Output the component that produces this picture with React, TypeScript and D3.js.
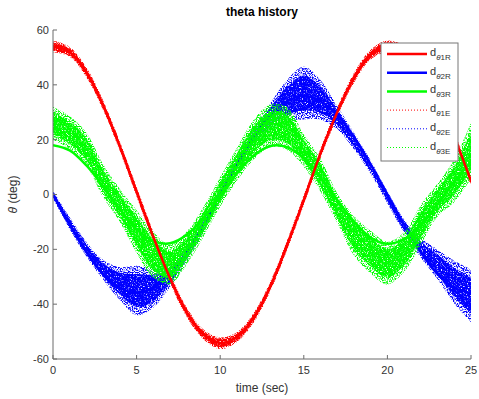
import React from "react";
import * as d3 from "d3";

// time samples (sec)
const times = [0, 1, 2, 3, 4, 5, 6, 7, 8, 9, 10, 11, 12, 13, 14, 15, 16, 17, 18, 19, 20, 21, 22, 23, 24, 25];

// reference trajectories (deg)
const theta1R = [54, 52, 44.5, 32.5, 17.5, 1, -15.5, -30.5, -43, -51, -54.2, -52, -45, -33.5, -18.5, -2, 15, 30, 42.5, 51, 54, 52.5, 46, 35, 21, 5];
const theta2R = [0, -11, -21, -29, -34, -36, -34, -29, -21, -11, 0, 11, 21, 29, 34, 36, 34, 29, 21, 11, 0, -11, -21, -29, -34, -36];
const theta3R = [18, 16.1, 10.6, 2.9, -5.4, -12.6, -17, -17.8, -14.7, -8.5, -0.4, 7.7, 14.2, 17.7, 17.3, 13.2, 6.2, -2, -9.8, -15.7, -18, -16.3, -11.2, -3.5, 4.7, 12.1];

// estimated trajectories: centre of the noisy cloud and its half width (deg)
const theta1E = [54, 52, 44.5, 32.5, 17.5, 1, -15.5, -30.5, -43, -51, -54.2, -52, -45, -33.5, -18.5, -2, 15, 30, 42.5, 51, 54, 52.5, 46, 35, 21, 5];
const theta1ESpread = [1.8, 1.5, 1.5, 1.5, 1.5, 1.5, 1.5, 1.5, 1.5, 1.5, 1.8, 1.5, 1.5, 1.5, 1.5, 1.5, 1.5, 1.5, 1.5, 1.5, 1.8, 1.5, 1.5, 1.5, 1.5, 1.5];
const theta2E = [0, -10.5, -20, -27.5, -32.5, -35, -34, -29.5, -21.5, -11.5, 0, 11, 21, 28.5, 34, 37, 34.5, 28, 19.5, 10, -1, -11.5, -19.5, -25.5, -32, -37];
const theta2ESpread = [1.2, 1.8, 2.2, 3, 5, 7.5, 6, 3.5, 2.5, 2, 1.8, 2, 2.5, 4, 6.5, 8, 6, 3.5, 2.5, 2, 1.8, 2, 3, 4.5, 6.5, 8];
const theta3E = [26, 22.5, 16.5, 5, -4, -13.5, -22, -25.5, -19.5, -10, 1, 11, 20, 25, 24, 16, 7, -5, -15, -21, -25, -21, -11, -2, 5, 16];
const theta3ESpread = [5, 5, 5, 5, 5, 6.5, 7, 6, 5, 4.5, 4.5, 5, 6, 6.5, 6.5, 5, 5, 4.5, 6, 6.5, 6.5, 6, 6, 5, 6.5, 8.5];

const xTicks = [0, 5, 10, 15, 20, 25];
const yTicks = [-60, -40, -20, 0, 20, 40, 60];

const legendItems = [
  { sub: "1R", color: "#ff0000", dotted: false },
  { sub: "2R", color: "#0000ff", dotted: false },
  { sub: "3R", color: "#00ff00", dotted: false },
  { sub: "1E", color: "#ff0000", dotted: true },
  { sub: "2E", color: "#0000ff", dotted: true },
  { sub: "3E", color: "#00ff00", dotted: true },
];

const W = 479;
const H = 399;
const margin = { top: 30, right: 8, bottom: 40, left: 53 };
const font = "'Liberation Sans', Arial, sans-serif";
const axisColor = "#6b6b6b";
const textColor = "#333";

const App = () => {
  const x = d3.scaleLinear().domain([0, 25]).range([margin.left, W - margin.right]);
  const y = d3.scaleLinear().domain([-60, 60]).range([H - margin.bottom, margin.top]);

  const line = (vals: number[]) =>
    d3.line<number>()
      .x((d, i) => x(times[i]))
      .y((d) => y(d))
      .curve(d3.curveCatmullRom)(vals) || "";

  const band = (c: number[], s: number[], k: number) =>
    d3.area<number>()
      .x((d, i) => x(times[i]))
      .y0((d, i) => y(d - s[i] * k))
      .y1((d, i) => y(d + s[i] * k))
      .curve(d3.curveCatmullRom)(c) || "";

  const bands = [
    { c: theta1E, s: theta1ESpread, color: "#ff0000" },
    { c: theta2E, s: theta2ESpread, color: "#0000ff" },
    { c: theta3E, s: theta3ESpread, color: "#00ff00" },
  ];

  const x0 = x(0), x1 = x(25), yb = y(-60), yt = y(60);
  const lg = { x: 381, y: 43, w: 77, h: 118, row: 18.7 };

  return (
    <svg width={W} height={H} style={{ position: "absolute", left: 0, top: 0, background: "#fff" }}>
      <defs>
        <filter id="sparse" x="0" y="0" width="100%" height="100%">
          <feTurbulence type="fractalNoise" baseFrequency="0.8" numOctaves="1" seed="7" result="noise" />
          <feColorMatrix in="noise" type="matrix" values="0 0 0 0 0  0 0 0 0 0  0 0 0 0 0  6 0 0 0 -2.6" result="mask" />
          <feComposite in="SourceGraphic" in2="mask" operator="in" />
        </filter>
        <filter id="dense" x="0" y="0" width="100%" height="100%">
          <feTurbulence type="fractalNoise" baseFrequency="0.8" numOctaves="1" seed="3" result="noise" />
          <feColorMatrix in="noise" type="matrix" values="0 0 0 0 0  0 0 0 0 0  0 0 0 0 0  5 0 0 0 -1.4" result="mask" />
          <feComposite in="SourceGraphic" in2="mask" operator="in" />
        </filter>
        <clipPath id="plot">
          <rect x={x0} y={yt} width={x1 - x0} height={yb - yt} />
        </clipPath>
      </defs>

      <text x={(x0 + x1) / 2} y={16} textAnchor="middle" fontFamily={font} fontSize={12} fontWeight="bold" fill="#000">
        theta history
      </text>

      <g clipPath="url(#plot)">
        <path d={line(theta2R)} fill="none" stroke="#0000ff" strokeWidth={2.5} />
        {bands.map((b, i) => (
          <g key={i}>
            <path d={band(b.c, b.s, 1.2)} fill={b.color} filter="url(#sparse)" />
            <path d={band(b.c, b.s, 0.8)} fill={b.color} filter="url(#dense)" />
          </g>
        ))}
        <path d={line(theta3R)} fill="none" stroke="#00ff00" strokeWidth={2.5} />
        <path d={line(theta1R)} fill="none" stroke="#ff0000" strokeWidth={2.5} />
      </g>

      {/* axes */}
      <line x1={x0} x2={x0} y1={yt} y2={yb} stroke={axisColor} />
      <line x1={x0} x2={x1} y1={yb} y2={yb} stroke={axisColor} />
      {yTicks.map((t) => (
        <g key={"y" + t}>
          <line x1={x0} x2={x0 + 4} y1={y(t)} y2={y(t)} stroke={axisColor} />
          <text x={x0 - 4} y={y(t)} dy="0.35em" textAnchor="end" fontFamily={font} fontSize={11} fill={textColor}>
            {t}
          </text>
        </g>
      ))}
      {xTicks.map((t) => (
        <g key={"x" + t}>
          <line x1={x(t)} x2={x(t)} y1={yb} y2={yb - 4} stroke={axisColor} />
          <text x={x(t)} y={yb + 15} textAnchor="middle" fontFamily={font} fontSize={11} fill={textColor}>
            {t}
          </text>
        </g>
      ))}
      <text x={(x0 + x1) / 2} y={392} textAnchor="middle" fontFamily={font} fontSize={12} fill={textColor}>
        time (sec)
      </text>
      <text transform={`translate(17,${(yt + yb) / 2}) rotate(-90)`} textAnchor="middle" fontFamily={font} fontSize={12} fill={textColor}>
        <tspan fontStyle="italic">θ</tspan> (deg)
      </text>

      {/* legend */}
      <rect x={lg.x} y={lg.y} width={lg.w} height={lg.h} fill="#fff" stroke="#777" strokeWidth={1} />
      {legendItems.map((it, i) => {
        const cy = lg.y + 11 + i * lg.row;
        return (
          <g key={it.sub}>
            <line x1={lg.x + 6} x2={lg.x + 46} y1={cy} y2={cy} stroke={it.color}
              strokeWidth={it.dotted ? 1 : 2.5} strokeDasharray={it.dotted ? "1 2" : undefined} />
            <text x={lg.x + 49} y={cy + 2} fontFamily={font} fontSize={11} fill={textColor}>
              d
              <tspan dy={4} fontSize={8}>
                <tspan fontStyle="italic">θ</tspan>
                {it.sub}
              </tspan>
            </text>
          </g>
        );
      })}
    </svg>
  );
};

export default App;
